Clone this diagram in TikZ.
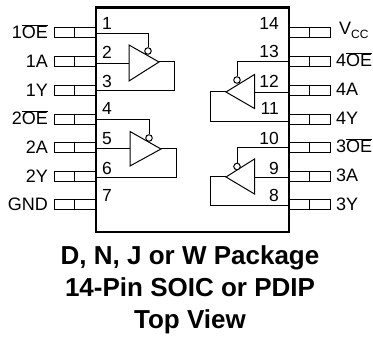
\documentclass[tikz,border=0pt]{standalone}
\usepackage{fontspec}
\setmainfont{Liberation Sans}
\newcommand{\activelow}[1]{$\overline{\hbox{#1}}$}
\tikzset{
  wire/.style={line width=1pt},
  pinnum/.style={font=\fontsize{17.5}{17.5}\selectfont,inner sep=0pt},
  pinname/.style={font=\fontsize{18}{18}\selectfont,inner sep=0pt},
  bubble/.style={circle,draw,line width=1pt,fill=white,inner sep=0pt,minimum size=6.5pt},
  caption/.style={font=\fontsize{26}{26}\selectfont\bfseries,inner sep=0pt,anchor=base}
}
\begin{document}
\begin{tikzpicture}[x=1pt,y=-1pt]
	\useasboundingbox (0,0) rectangle (373,337);
	%PINS
	\foreach \y in {28,57,86,115,143,172,200}{
		\draw[wire] (96,\y) -- (54,\y) -- (54,\y+10) -- (96,\y+10);
		\draw[wire] (74.5,\y) -- (74.5,\y+10);
		\draw[wire] (289,\y) -- (330,\y) -- (330,\y+10) -- (289,\y+10);
		\draw[wire] (309,\y) -- (309,\y+10);
	}
	%PACKAGE
	\draw[line width=2.2pt] (96.2,7.5) rectangle (288.7,232);
	%NUMBERS
	\foreach \n/\y in {1/30,2/58.3,3/88,4/115,5/145,6/175,7/202}
		\node[pinnum,anchor=base west] (n\n) at (102,\y) {\n};
	\foreach \n/\y in {14/30,13/58,12/87.5,11/115,10/145,9/175,8/202}
		\node[pinnum,anchor=base east] (n\n) at (279,\y) {\n};
	%NAMES
	\node[pinname,anchor=base east] (l1) at (48,39) {1\activelow{OE}};
	\node[pinname,anchor=base east] (l2) at (48,68) {1A};
	\node[pinname,anchor=base east] (l3) at (48,97) {1Y};
	\node[pinname,anchor=base east] (l4) at (48,125) {2\activelow{OE}};
	\node[pinname,anchor=base east] (l5) at (48,154) {2A};
	\node[pinname,anchor=base east] (l6) at (48,183) {2Y};
	\node[pinname,anchor=base east] (l7) at (48,211) {GND};
	\node[pinname,anchor=base west] (l14) at (339,35) {V\raisebox{-3.3pt}{\fontsize{12}{12}\selectfont CC}};
	\node[pinname,anchor=base west] (l13) at (336,67) {4\activelow{OE}};
	\node[pinname,anchor=base west] (l12) at (336,96) {4A};
	\node[pinname,anchor=base west] (l11) at (336,125) {4Y};
	\node[pinname,anchor=base west] (l10) at (336,153) {3\activelow{OE}};
	\node[pinname,anchor=base west] (l9) at (336,182) {3A};
	\node[pinname,anchor=base west] (l8) at (336,211) {3Y};
	%GATE 1
	\coordinate (g1) at (159,62);
	\draw[wire] (129,45) -- (129,81) -- (g1) -- cycle;
	\node[bubble] (b1) at (148,51) {};
	\draw[wire] (96,33.7) -| (b1.north);
	\draw[wire] (96,63.5) -- (129,63.5);
	\draw[wire] (g1) -- (174.5,62) |- (96,91);
	%GATE 2
	\coordinate (g2) at (161,149);
	\draw[wire] (130,131.5) -- (130,166) -- (g2) -- cycle;
	\node[bubble] (b2) at (149,138) {};
	\draw[wire] (96,120) -| (b2.north);
	\draw[wire] (96,149) -- (130,149);
	\draw[wire] (g2) -- (176,149) |- (96,178);
	%GATE 4
	\coordinate (g4) at (226,92);
	\draw[wire] (254.5,74.5) -- (254.5,108.5) -- (g4) -- cycle;
	\node[bubble] (b4) at (237,80) {};
	\draw[wire] (289,62) -| (b4.north);
	\draw[wire] (289,92.7) -- (254.5,92.7);
	\draw[wire] (g4) -- (210,92) |- (289,122);
	%GATE 3
	\coordinate (g3) at (226,177);
	\draw[wire] (254.5,159) -- (254.5,194) -- (g3) -- cycle;
	\node[bubble] (b3) at (237,166.5) {};
	\draw[wire] (289,148) -| (b3.north);
	\draw[wire] (289,178) -- (254.5,178);
	\draw[wire] (g3) -- (210,177) |- (289,206);
	%TITLE
	\node[caption] (t1) at (190,265) {D, N, J or W Package};
	\node[caption] (t2) at (190,296.7) {14-Pin SOIC or PDIP};
	\node[caption] (t3) at (190,328) {Top View};
\end{tikzpicture}
\end{document}
